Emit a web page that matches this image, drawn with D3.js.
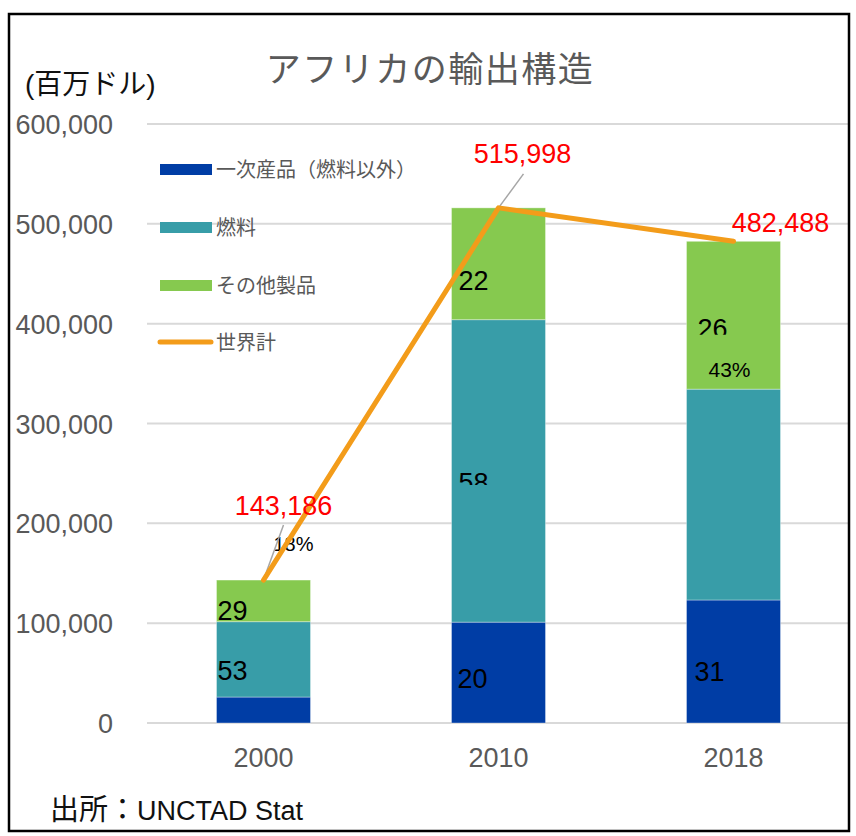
<!DOCTYPE html>
<html><head><meta charset="utf-8">
<script src="https://cdn.jsdelivr.net/npm/d3@7"></script>
<style>body{margin:0;background:#fff}</style>
</head><body><svg id="c" width="856" height="836"></svg>
<script>
// ---- data ----
const categories = ["2000", "2010", "2018"];
const seriesNames = ["一次産品（燃料以外）", "燃料", "その他製品"];
const lineName = "世界計";
const primary = [26000, 101000, 123200];
const fuel = [75500, 303000, 211200];
const other = [41686, 111998, 148088];
const totals = [143186, 515998, 482488];
const totalLabels = ["143,186", "515,998", "482,488"];
const yTicks = [0, 100000, 200000, 300000, 400000, 500000, 600000];
// share labels as printed: category, text, value level of baseline
const shareCats = ["2000", "2000", "2000", "2010", "2010", "2010", "2018", "2018", "2018"];
const shareTexts = ["29", "53", "18%", "22", "58", "20", "26", "43%", "31"];
const shareLevels = [103200, 43100, 172300, 433900, 231500, 35100, 385800, 346700, 42100];
const shareClip = [101500, null, null, null, 238500, null, 388800, null, null];

// ---- styles / layout ----
const colors = ["#003DA5", "#389DA8", "#86C94F"];
const lineColor = "#F39C1A";
const FONT = "'Liberation Sans', Arial, 'Noto Sans CJK JP', sans-serif";
const shareDx = [1, 1, 57, 7, 7, 6, 11, 22, 8];
const shareSize = [27, 27, 20, 27, 27, 27, 27, 21, 27];
const totalDx = [20, 24, 47];
const totalDy = [-65, -45, -9];
const leaderEnd = [[20, -55], [25, -34], null];

const svg = d3.select("#c");
svg.append("rect").attr("width", 856).attr("height", 836).attr("fill", "#fff");

const x = d3.scaleBand().domain(categories).range([146, 851]).paddingInner(0.6).paddingOuter(0.3);
const y = d3.scaleLinear().domain([0, 600000]).range([723, 124]);

// gridlines
svg.append("g").selectAll("line").data(yTicks).join("line")
  .attr("x1", 147).attr("x2", 850)
  .attr("y1", d => y(d)).attr("y2", d => y(d))
  .attr("stroke", "#d9d9d9").attr("stroke-width", 2);

// y tick labels
svg.append("g").selectAll("text").data(yTicks).join("text")
  .attr("x", 113).attr("y", d => y(d) + 10)
  .attr("text-anchor", "end").attr("font-family", FONT).attr("font-size", 27)
  .attr("fill", "#595959").text(d3.format(","));

// x labels
svg.append("g").selectAll("text").data(categories).join("text")
  .attr("x", d => x(d) + x.bandwidth() / 2).attr("y", 767)
  .attr("text-anchor", "middle").attr("font-family", FONT).attr("font-size", 27)
  .attr("fill", "#595959").text(d => d);

// stacked bars
const rows = categories.map((c, i) => ({cat: c, a: primary[i], b: fuel[i], c2: other[i]}));
const stack = d3.stack().keys(["a", "b", "c2"])(rows);
svg.append("g").selectAll("g").data(stack).join("g")
  .attr("fill", (d, i) => colors[i])
  .selectAll("rect").data(d => d).join("rect")
  .attr("x", d => x(d.data.cat)).attr("width", x.bandwidth())
  .attr("y", d => y(d[1])).attr("height", d => y(d[0]) - y(d[1]))
  .attr("stroke", "#ffffff").attr("stroke-opacity", 0.35).attr("stroke-width", 1);

// share labels
const defs = svg.append("defs");
const lg = svg.append("g");
shareTexts.forEach((t, i) => {
  const t0 = lg.append("text")
    .attr("x", x(shareCats[i]) + shareDx[i]).attr("y", y(shareLevels[i]))
    .attr("font-family", FONT).attr("font-size", shareSize[i]).attr("fill", "#000")
    .text(t);
  if (shareClip[i] !== null) {
    const id = "clip" + i;
    defs.append("clipPath").attr("id", id).append("rect")
      .attr("x", 0).attr("y", 0).attr("width", 856).attr("height", y(shareClip[i]));
    t0.attr("clip-path", `url(#${id})`);
  }
});

// leader lines
const cx = c => x(c) + x.bandwidth() / 2;
categories.forEach((c, i) => {
  if (!leaderEnd[i]) return;
  svg.append("line")
    .attr("x1", cx(c)).attr("y1", y(totals[i]))
    .attr("x2", cx(c) + leaderEnd[i][0]).attr("y2", y(totals[i]) + leaderEnd[i][1])
    .attr("stroke", "#a6a6a6").attr("stroke-width", 1.5);
});

// total line
const line = d3.line().x((d, i) => cx(categories[i])).y(d => y(d));
svg.append("path").datum(totals).attr("d", line)
  .attr("fill", "none").attr("stroke", lineColor).attr("stroke-width", 5)
  .attr("stroke-linejoin", "round").attr("stroke-linecap", "round");

// total labels
svg.append("g").selectAll("text").data(totals).join("text")
  .attr("x", (d, i) => cx(categories[i]) + totalDx[i])
  .attr("y", (d, i) => y(d) + totalDy[i])
  .attr("text-anchor", "middle").attr("font-family", FONT).attr("font-size", 27)
  .attr("fill", "#ff0000").text((d, i) => totalLabels[i]);

// legend
const leg = svg.append("g");
const legY = [169.5, 227.5, 285.5, 342];
seriesNames.forEach((n, i) => {
  leg.append("rect").attr("x", 160).attr("y", legY[i] - 5.5).attr("width", 52).attr("height", 11).attr("fill", colors[i]);
  leg.append("text").attr("x", 216).attr("y", legY[i] + 7.5).attr("font-family", FONT)
    .attr("font-size", 20).attr("fill", "#595959").text(n);
});
leg.append("line").attr("x1", 160).attr("x2", 211).attr("y1", legY[3]).attr("y2", legY[3])
  .attr("stroke", lineColor).attr("stroke-width", 5).attr("stroke-linecap", "round");
leg.append("text").attr("x", 216).attr("y", legY[3] + 7.5).attr("font-family", FONT)
  .attr("font-size", 20).attr("fill", "#595959").text(lineName);

// title
svg.append("text").attr("x", 430).attr("y", 82).attr("text-anchor", "middle")
  .attr("font-family", FONT).attr("font-size", 35).attr("letter-spacing", 1.5)
  .attr("fill", "#595959").text("アフリカの輸出構造");

// unit
svg.append("text").attr("x", 25).attr("y", 94).attr("font-family", FONT)
  .attr("font-size", 28).attr("fill", "#111").text("(百万ドル)");

// source
const src = svg.append("text").attr("x", 50).attr("y", 820).attr("font-family", FONT)
  .attr("font-size", 27).attr("fill", "#111");
src.append("tspan").attr("font-size", 29).text("出所：");
src.append("tspan").text("UNCTAD Stat");

// frame
svg.append("rect").attr("x", 9).attr("y", 14).attr("width", 840).attr("height", 817)
  .attr("fill", "none").attr("stroke", "#000").attr("stroke-width", 2.5);
</script>
</body></html>
